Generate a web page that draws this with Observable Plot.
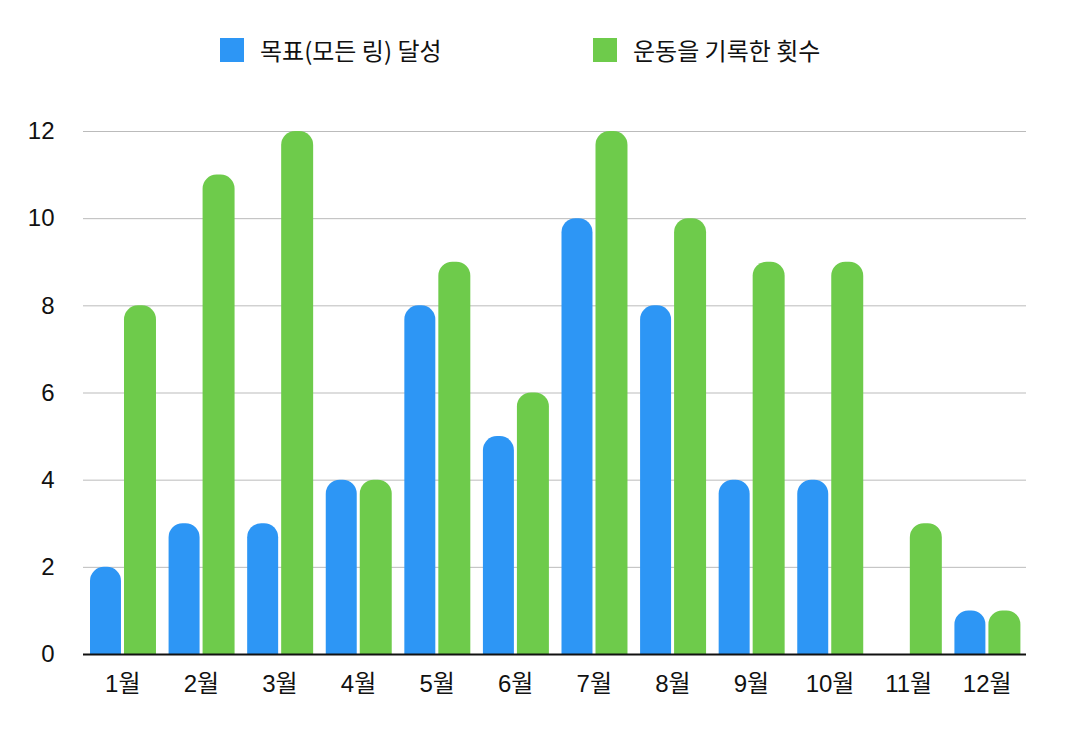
<!DOCTYPE html>
<html><head><meta charset="utf-8">
<script src="https://cdn.jsdelivr.net/npm/d3@7"></script>
<script src="https://cdn.jsdelivr.net/npm/@observablehq/plot@0.6"></script>
<style>
body{margin:0;background:#fff;font-family:"Liberation Sans","Noto Sans CJK KR",sans-serif;}
#legend{position:relative;height:100px;width:1068px;}
.item{position:absolute;top:37px;height:25px;display:flex;align-items:center;font-size:24px;color:#111;font-family:"Noto Sans CJK KR",sans-serif;}
.sw{width:24px;height:24px;margin-right:16px;}
#chart g[aria-label="x-axis tick label"], #chart g[aria-label="x-axis tick label"] text{font-size:24px !important;}
#chart g[aria-label="y-axis tick label"], #chart g[aria-label="y-axis tick label"] text{font-size:24px !important;}
</style></head>
<body>
<div id="legend"></div>
<div id="chart"></div>
<script>
const months = ["1월","2월","3월","4월","5월","6월","7월","8월","9월","10월","11월","12월"];
const seriesNames = ["목표(모든 링) 달성","운동을 기록한 횟수"];
const goal = [2,3,3,4,8,5,10,8,4,4,0,1];
const workouts = [8,11,12,4,9,6,12,10,9,9,3,1];
const yTicks = [0,2,4,6,8,10,12];
const colors = ["#2d96f5","#6ecb4b"];

const lg = document.getElementById("legend");
[[220,0],[593,1]].forEach(([x,i])=>{
  const d=document.createElement("div");d.className="item";d.style.left=x+"px";
  d.innerHTML=`<div class="sw" style="background:${colors[i]}"></div><span>${seriesNames[i]}</span>`;
  lg.appendChild(d);
});

const goalData = months.map((m,i)=>({month:m,value:goal[i]}));
const workData = months.map((m,i)=>({month:m,value:workouts[i]}));

const plot = Plot.plot({
  width:1068, height:634,
  marginLeft:83, marginRight:42, marginTop:31, marginBottom:80,
  style:{fontFamily:"'Liberation Sans','Noto Sans CJK KR',sans-serif",color:"#111"},
  x:{domain:months,padding:0,round:false},
  y:{domain:[0,12]},
  marks:[
    Plot.ruleY(yTicks.slice(1),{stroke:"#bbb",strokeWidth:1}),
    Plot.barY(goalData,{x:"month",y:"value",fill:colors[0],insetLeft:7,insetRight:40.6,ry1:14}),
    Plot.barY(workData,{x:"month",y:"value",fill:colors[1],insetLeft:41,insetRight:5.6,ry1:14}),
    Plot.ruleY([0],{stroke:"#111",strokeWidth:2}),
    Plot.axisX({tickSize:0,tickPadding:20,fontSize:24,label:null}),
    Plot.axisY({ticks:yTicks,tickSize:0,tickPadding:29,fontSize:24,label:null})
  ]
});
document.getElementById("chart").appendChild(plot);
</script>
</body></html>
